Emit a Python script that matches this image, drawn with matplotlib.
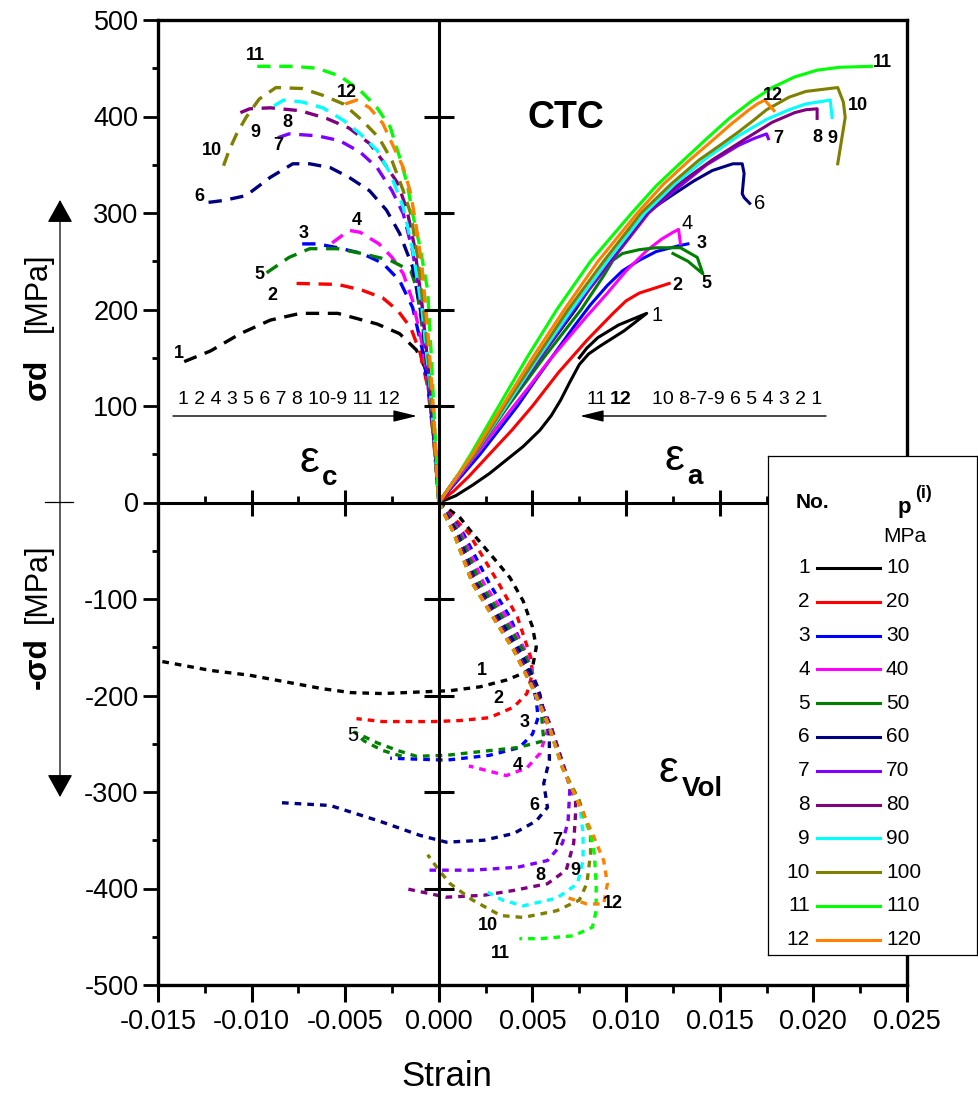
import matplotlib
matplotlib.use('Agg')
import matplotlib.pyplot as plt
from matplotlib.lines import Line2D
from matplotlib.ticker import MultipleLocator, FormatStrFormatter
import numpy as np

plt.rcParams['font.family'] = ['Liberation Sans', 'DejaVu Sans']
plt.rcParams['axes.unicode_minus'] = False

W, H = 979, 1094


def fx(px):
    return px / W


def fy(py):
    return 1 - py / H


# test number, confining pressure and colour
numbers = list(range(1, 13))
pressures = [10, 20, 30, 40, 50, 60, 70, 80, 90, 100, 110, 120]
colors = ['#000000', '#ff0000', '#0000ff', '#ff00ff', '#008000', '#000080',
          '#8000ff', '#800080', '#00ffff', '#808000', '#00ff00', '#ff8000']

# axial strain eps_a vs sigma_d (solid)
axial1 = [(0, 0), (0.0009, 7), (0.0018, 18), (0.0027, 30), (0.0036, 44), (0.0045, 58),
          (0.0054, 75), (0.0060, 90), (0.0065, 106), (0.0070, 125), (0.0075, 143),
          (0.0080, 154), (0.0086, 162), (0.0099, 178), (0.0111, 196), (0.0096, 184),
          (0.0085, 171), (0.0079, 160), (0.0075, 150)]
axial2 = [(0, 0), (0.0008, 12), (0.0016, 27), (0.0027, 50), (0.0039, 75), (0.0050, 100),
          (0.0064, 135), (0.0079, 168), (0.0093, 196), (0.0100, 209), (0.0107, 217),
          (0.0115, 222), (0.0123, 227)]
axial3 = [(0, 0), (0.0011, 25), (0.0022, 50), (0.0042, 100), (0.0052, 128), (0.0062, 155),
          (0.0072, 182), (0.0081, 205), (0.0090, 225), (0.0098, 240), (0.0107, 251),
          (0.0116, 260), (0.0128, 266), (0.0133, 268)]
axial4 = [(0, 0), (0.0010, 25), (0.0020, 50), (0.0040, 100), (0.0049, 122), (0.0058, 145),
          (0.0068, 168), (0.0079, 193), (0.0090, 217), (0.0100, 240), (0.0111, 261),
          (0.0119, 273), (0.0125, 280), (0.0128, 283), (0.0129, 268)]
axial5 = [(0, 0), (0.0009, 25), (0.0019, 50), (0.0037, 100), (0.0056, 150), (0.0076, 200),
          (0.0088, 235), (0.0093, 251), (0.0098, 258), (0.0107, 262), (0.0116, 264),
          (0.0129, 264), (0.0138, 254), (0.0141, 237), (0.0133, 250), (0.0125, 258)]
axial6 = [(0, 0), (0.0009, 25), (0.0019, 50), (0.0036, 100), (0.0054, 150), (0.0073, 200),
          (0.0090, 250), (0.0094, 256), (0.0097, 266), (0.0102, 280), (0.0107, 292),
          (0.0112, 302), (0.0125, 319), (0.0136, 333), (0.0146, 344), (0.0157, 351),
          (0.0162, 351), (0.0163, 341), (0.0162, 320), (0.0163, 316), (0.0166, 310)]
axial7 = [(0, 0), (0.0009, 25), (0.0019, 50), (0.0036, 100), (0.0054, 150), (0.0072, 200),
          (0.0092, 250), (0.0112, 300), (0.0125, 322), (0.0143, 350), (0.0160, 370),
          (0.0168, 377), (0.0175, 382), (0.0176, 377)]
axial8 = [(0, 0), (0.0009, 25), (0.0019, 50), (0.0036, 100), (0.0053, 150), (0.0071, 200),
          (0.0091, 250), (0.0111, 300), (0.0128, 330), (0.0146, 355), (0.0163, 376),
          (0.0178, 394), (0.0190, 404), (0.0196, 407), (0.0202, 408), (0.0202, 398)]
axial9 = [(0, 0), (0.0009, 25), (0.0019, 50), (0.0036, 100), (0.0053, 150), (0.0071, 200),
          (0.0090, 250), (0.0110, 300), (0.0126, 330), (0.0143, 357), (0.0160, 380),
          (0.0175, 397), (0.0187, 407), (0.0196, 413), (0.0209, 417), (0.0210, 399)]
axial10 = [(0, 0), (0.0009, 25), (0.0019, 50), (0.0035, 100), (0.0052, 150), (0.0069, 200),
           (0.0088, 250), (0.0108, 300), (0.0124, 330), (0.0139, 355), (0.0150, 370),
           (0.0160, 384), (0.0168, 396), (0.0175, 407), (0.0187, 420), (0.0196, 426),
           (0.0213, 430), (0.0216, 415), (0.0217, 399), (0.0213, 351)]
axial11 = [(0, 0), (0.0009, 25), (0.0017, 50), (0.0032, 100), (0.0047, 150), (0.0063, 200),
           (0.0081, 250), (0.0103, 300), (0.0116, 328), (0.0128, 350), (0.0143, 377),
           (0.0155, 398), (0.0167, 416), (0.0178, 430), (0.0190, 441), (0.0202, 448),
           (0.0214, 451), (0.0231, 452)]
axial12 = [(0, 0), (0.0009, 25), (0.0018, 50), (0.0034, 100), (0.0050, 150), (0.0067, 200),
           (0.0085, 250), (0.0106, 300), (0.0120, 330), (0.0134, 355), (0.0146, 375),
           (0.0156, 392), (0.0165, 406), (0.0170, 413), (0.0174, 417), (0.0179, 406)]

# lateral strain eps_c vs sigma_d (long dashes)
lateral1 = [(-0.0136, 146), (-0.0122, 157), (-0.0106, 175), (-0.0090, 189), (-0.0074, 196),
            (-0.0054, 196), (-0.0033, 185), (-0.0021, 175), (-0.0012, 158), (-0.0006, 134),
            (-0.0004, 110), (-0.0002, 60), (0, 0)]
lateral2 = [(-0.0076, 227), (-0.0054, 226), (-0.0041, 220), (-0.0030, 212), (-0.0022, 199),
            (-0.0015, 181), (-0.0010, 155), (-0.0006, 120), (-0.0003, 70), (0, 0)]
lateral3 = [(-0.0073, 268), (-0.0065, 268), (-0.0054, 264), (-0.0041, 258), (-0.0030, 248),
            (-0.0021, 230), (-0.0014, 202), (-0.0009, 160), (-0.0005, 110), (-0.0002, 55), (0, 0)]
lateral4 = [(-0.0057, 269), (-0.0048, 282), (-0.0042, 280), (-0.0032, 268), (-0.0025, 254),
            (-0.0019, 237), (-0.0014, 209), (-0.0009, 165), (-0.0005, 110), (-0.0002, 55), (0, 0)]
lateral5 = [(-0.0092, 238), (-0.0080, 254), (-0.0069, 263), (-0.0054, 263), (-0.0041, 258),
            (-0.0026, 251), (-0.0015, 240), (-0.0012, 223), (-0.0008, 170), (-0.0005, 110),
            (-0.0002, 50), (0, 0)]
lateral6 = [(-0.0123, 311), (-0.0115, 313), (-0.0103, 318), (-0.0090, 337), (-0.0078, 351),
            (-0.0069, 351), (-0.0058, 347), (-0.0048, 337), (-0.0037, 323), (-0.0028, 303),
            (-0.0021, 279), (-0.0014, 244), (-0.0009, 190), (-0.0005, 120), (-0.0002, 55), (0, 0)]
lateral7 = [(-0.0086, 378), (-0.0080, 382), (-0.0065, 380), (-0.0053, 375), (-0.0042, 363),
            (-0.0033, 347), (-0.0025, 323), (-0.0019, 299), (-0.0014, 260), (-0.0009, 200),
            (-0.0005, 125), (-0.0002, 55), (0, 0)]
lateral8 = [(-0.0106, 404), (-0.0101, 408), (-0.0090, 409), (-0.0074, 406), (-0.0060, 398),
            (-0.0048, 388), (-0.0037, 372), (-0.0030, 354), (-0.0022, 331), (-0.0017, 303),
            (-0.0013, 265), (-0.0009, 205), (-0.0005, 125), (-0.0002, 55), (0, 0)]
lateral9 = [(-0.0088, 411), (-0.0083, 417), (-0.0073, 415), (-0.0062, 409), (-0.0051, 396),
            (-0.0042, 382), (-0.0033, 365), (-0.0026, 341), (-0.0019, 306), (-0.0014, 262),
            (-0.0009, 200), (-0.0005, 125), (-0.0002, 55), (0, 0)]
lateral10 = [(-0.0115, 349), (-0.0112, 365), (-0.0108, 382), (-0.0103, 399), (-0.0096, 418),
             (-0.0087, 430), (-0.0073, 429), (-0.0062, 422), (-0.0051, 413), (-0.0041, 396),
             (-0.0032, 378), (-0.0025, 354), (-0.0019, 323), (-0.0015, 299), (-0.0011, 250),
             (-0.0007, 180), (-0.0004, 110), (-0.0002, 50), (0, 0)]
lateral11 = [(-0.0097, 452), (-0.0078, 452), (-0.0065, 450), (-0.0053, 442), (-0.0042, 427),
             (-0.0033, 409), (-0.0026, 389), (-0.0021, 358), (-0.0017, 331), (-0.0014, 299),
             (-0.0010, 264), (-0.0006, 220), (-0.0004, 150), (-0.0002, 70), (0, 0)]
lateral12 = [(-0.0050, 413), (-0.0044, 417), (-0.0037, 409), (-0.0030, 393), (-0.0025, 372),
             (-0.0019, 347), (-0.0015, 320), (-0.0012, 285), (-0.0009, 244), (-0.0006, 180),
             (-0.0003, 100), (0, 0)]

# volumetric strain eps_vol vs -sigma_d (short dashes)
vol1 = [(0, 0), (0.0011, -15), (0.0018, -32), (0.0029, -57), (0.0038, -78), (0.0045, -102),
        (0.0050, -129), (0.0052, -150), (0.0050, -171), (0.0045, -177), (0.0036, -184),
        (0.0022, -191), (0.0006, -195), (-0.0030, -198), (-0.0047, -197), (-0.0062, -193),
        (-0.0076, -188), (-0.0101, -179), (-0.0122, -174), (-0.0150, -164)]
vol2 = [(0, 0), (0.0016, -32), (0.0032, -84), (0.0042, -119), (0.0049, -160), (0.0050, -177),
        (0.0047, -198), (0.0040, -212), (0.0027, -223), (0.0011, -226), (-0.0003, -227),
        (-0.0030, -227), (-0.0044, -224)]
vol3 = [(0, 0), (0.0013, -32), (0.0027, -84), (0.0038, -119), (0.0047, -160), (0.0052, -205),
        (0.0053, -223), (0.0050, -240), (0.0043, -254), (0.0027, -262), (0.0004, -267),
        (-0.0026, -265)]
vol4 = [(0, 0), (0.0012, -32), (0.0024, -84), (0.0036, -119), (0.0046, -153), (0.0054, -200),
        (0.0058, -236), (0.0054, -260), (0.0047, -275), (0.0036, -283), (0.0026, -278),
        (0.0016, -273)]
vol5 = [(0, 0), (0.0011, -32), (0.0022, -84), (0.0034, -119), (0.0045, -153), (0.0054, -200),
        (0.0056, -247), (0.0042, -254), (0.0018, -259), (0.0004, -262), (-0.0012, -263),
        (-0.0022, -257), (-0.0033, -249), (-0.0045, -238), (-0.0040, -247), (-0.0030, -257),
        (-0.0018, -264)]
vol6 = [(0, 0), (0.0010, -32), (0.0020, -84), (0.0032, -119), (0.0043, -153), (0.0053, -192),
        (0.0059, -240), (0.0059, -267), (0.0056, -291), (0.0058, -316), (0.0052, -330),
        (0.0040, -343), (0.0024, -350), (0.0004, -352), (-0.0010, -345), (-0.0032, -330),
        (-0.0058, -314), (-0.0085, -311)]
vol7 = [(0, 0), (0.0009, -32), (0.0019, -84), (0.0030, -119), (0.0041, -153), (0.0051, -192),
        (0.0060, -233), (0.0066, -270), (0.0070, -295), (0.0069, -330), (0.0066, -353),
        (0.0058, -371), (0.0042, -378), (0.0018, -381), (-0.0005, -381)]
vol8 = [(0, 0), (0.0009, -32), (0.0019, -84), (0.0030, -119), (0.0041, -153), (0.0051, -192),
        (0.0060, -233), (0.0067, -275), (0.0073, -310), (0.0073, -322), (0.0072, -353),
        (0.0068, -381), (0.0058, -395), (0.0040, -402), (0.0024, -407), (0.0004, -409),
        (-0.0018, -400)]
vol9 = [(0, 0), (0.0008, -32), (0.0018, -84), (0.0029, -119), (0.0040, -153), (0.0050, -192),
        (0.0059, -233), (0.0066, -275), (0.0075, -309), (0.0077, -343), (0.0077, -371),
        (0.0074, -395), (0.0063, -410), (0.0045, -418), (0.0034, -412), (0.0026, -404)]
vol10 = [(0, 0), (0.0008, -32), (0.0018, -84), (0.0029, -119), (0.0040, -153), (0.0050, -192),
         (0.0059, -233), (0.0066, -275), (0.0075, -309), (0.0081, -343), (0.0081, -364),
         (0.0079, -395), (0.0075, -412), (0.0063, -423), (0.0045, -430), (0.0033, -428),
         (0.0018, -412), (0.0006, -395), (0.0000, -381), (-0.0006, -365)]
vol11 = [(0, 0), (0.0008, -32), (0.0018, -84), (0.0029, -119), (0.0040, -153), (0.0050, -192),
         (0.0059, -233), (0.0066, -275), (0.0074, -309), (0.0081, -343), (0.0083, -364),
         (0.0084, -395), (0.0084, -423), (0.0082, -440), (0.0072, -449), (0.0054, -452),
         (0.0043, -452)]
vol12 = [(0, 0), (0.0008, -32), (0.0018, -84), (0.0029, -119), (0.0040, -153), (0.0050, -192),
         (0.0059, -233), (0.0066, -275), (0.0074, -309), (0.0082, -343), (0.0088, -371),
         (0.0090, -395), (0.0088, -416), (0.0079, -416), (0.0068, -409)]

axial = [axial1, axial2, axial3, axial4, axial5, axial6, axial7, axial8, axial9, axial10,
         axial11, axial12]
lateral = [lateral1, lateral2, lateral3, lateral4, lateral5, lateral6, lateral7, lateral8,
           lateral9, lateral10, lateral11, lateral12]
vol = [vol1, vol2, vol3, vol4, vol5, vol6, vol7, vol8, vol9, vol10, vol11, vol12]

# curve number label positions (data coords) and weights
axial_lbl = [(0.01164, 194), (0.01276, 225), (0.01404, 268), (0.01324, 289), (0.01431, 227),
             (0.01714, 310), (0.01810, 377), (0.02019, 378), (0.02099, 377), (0.02238, 411),
             (0.02366, 456), (0.01784, 422)]
axial_bold = [False, True, True, False, True, False, True, True, True, True, True, True]
lateral_lbl = [(-0.0139, 154), (-0.0089, 215), (-0.0072, 279), (-0.0044, 292), (-0.0096, 236),
               (-0.0128, 317), (-0.0086, 370), (-0.0081, 394), (-0.0098, 383), (-0.0121, 365),
               (-0.0098, 463), (-0.0049, 425)]
vol_lbl = [(0.0023, -174), (0.0032, -203), (0.0046, -228), (0.0042, -273), (-0.0046, -241),
           (0.0051, -314), (0.0063, -350), (0.0054, -387), (0.0073, -381), (0.0026, -438),
           (0.0033, -467), (0.0093, -416)]
vol_bold = [True, True, True, True, False, True, True, True, True, True, True, True]

fig = plt.figure(figsize=(W / 100, H / 100), dpi=100)
ax = fig.add_axes([fx(158), fy(985), (907 - 158) / W, (985 - 20) / H])
ax.set_xlim(-0.015, 0.025)
ax.set_ylim(-500, 500)

for i in range(12):
    x, y = zip(*axial[i])
    ax.plot(x, y, color=colors[i], lw=2.2, zorder=3, solid_joinstyle='round')
    x, y = zip(*lateral[i])
    ax.plot(x, y, color=colors[i], lw=2.4, dashes=(4, 2.6), zorder=3)
    x, y = zip(*vol[i])
    ax.plot(x, y, color=colors[i], lw=2.4, dashes=(2, 1.8), zorder=3)

# centre cross with its own ticks
ax.axhline(0, color='k', lw=2.2, zorder=4)
ax.axvline(0, color='k', lw=2.2, zorder=4)
yt = np.array([-400, -300, -200, -100, 100, 200, 300, 400])
ax.plot(np.zeros(len(yt)), yt, ls='none', marker='_', ms=21, mew=2.2, color='k', zorder=4)
xt = np.array([-0.010, -0.005, 0.005, 0.010, 0.015, 0.020])
ax.plot(xt, np.zeros(len(xt)), ls='none', marker='|', ms=19, mew=2.2, color='k', zorder=4)
xm = np.arange(-0.0125, 0.023, 0.005)
ax.plot(xm, np.zeros(len(xm)), ls='none', marker=2, ms=5, mew=2, color='k', zorder=4)

for s in ax.spines.values():
    s.set_linewidth(2.4)
ax.xaxis.set_major_locator(MultipleLocator(0.005))
ax.xaxis.set_minor_locator(MultipleLocator(0.0025))
ax.yaxis.set_major_locator(MultipleLocator(100))
ax.yaxis.set_minor_locator(MultipleLocator(50))
ax.xaxis.set_major_formatter(FormatStrFormatter('%.3f'))
ax.yaxis.set_major_formatter(FormatStrFormatter('%d'))
ax.tick_params(axis='x', which='major', direction='out', length=12, width=2.2,
               labelsize=19.5, pad=5, top=False)
ax.tick_params(axis='x', which='minor', direction='out', length=6, width=2, top=False)
ax.tick_params(axis='y', which='major', direction='out', length=11, width=2,
               labelsize=19.5, pad=3, right=False)
ax.tick_params(axis='y', which='minor', direction='out', length=4, width=2, right=False)

# curve labels
for i in range(12):
    ax.text(*axial_lbl[i], str(numbers[i]), ha='center', va='center',
            fontsize=13 if axial_bold[i] else 14.5,
            fontweight='bold' if axial_bold[i] else 'normal', zorder=5)
    ax.text(*lateral_lbl[i], str(numbers[i]), ha='center', va='center', fontsize=13,
            fontweight='bold', zorder=5)
    ax.text(*vol_lbl[i], str(numbers[i]), ha='center', va='center',
            fontsize=13 if vol_bold[i] else 14.5,
            fontweight='bold' if vol_bold[i] else 'normal', zorder=5)

# quadrant titles
tf = fig.transFigure
ax.text(fx(566), fy(118), 'CTC', transform=tf, ha='center', va='center', fontsize=27,
        fontweight='bold')
ax.text(fx(309), fy(460), 'ε', transform=tf, ha='center', va='center', fontsize=32)
ax.text(fx(322), fy(478), 'c', transform=tf, ha='left', va='center', fontsize=20,
        fontweight='bold')
ax.text(fx(674), fy(458), 'ε', transform=tf, ha='center', va='center', fontsize=32)
ax.text(fx(687), fy(477), 'a', transform=tf, ha='left', va='center', fontsize=20,
        fontweight='bold')
ax.text(fx(668), fy(770), 'ε', transform=tf, ha='center', va='center', fontsize=32)
ax.text(fx(682), fy(789), 'Vol', transform=tf, ha='left', va='center', fontsize=20,
        fontweight='bold')

# order arrows
ax.text(fx(289), fy(399), '1 2 4 3 5 6 7 8 10-9 11 12', transform=tf, ha='center',
        va='center', fontsize=14)
ax.annotate('', xy=(fx(417), fy(416)), xytext=(fx(173), fy(416)), xycoords=tf, textcoords=tf,
            arrowprops=dict(arrowstyle='-|>,head_length=0.9,head_width=0.22', lw=1,
                            color='k', mutation_scale=16, shrinkA=0, shrinkB=0))
ax.text(fx(587), fy(399), '11', transform=tf, ha='left', va='center', fontsize=14)
ax.text(fx(610), fy(399), '12', transform=tf, ha='left', va='center', fontsize=14,
        fontweight='bold')
ax.text(fx(822), fy(399), '10 8-7-9 6 5 4 3 2 1', transform=tf, ha='right', va='center',
        fontsize=14)
ax.annotate('', xy=(fx(580), fy(416)), xytext=(fx(826), fy(416)), xycoords=tf, textcoords=tf,
            arrowprops=dict(arrowstyle='-|>,head_length=0.9,head_width=0.22', lw=1,
                            color='k', mutation_scale=16, shrinkA=0, shrinkB=0))

# axis titles
fig.text(fx(447), fy(1076), 'Strain', ha='center', va='center', fontsize=25)
fig.text(fx(38), fy(379), 'σd', rotation=90, ha='center', va='center', fontsize=23,
         fontweight='bold')
fig.text(fx(38), fy(292), '[MPa]', rotation=90, ha='center', va='center', fontsize=22)
fig.text(fx(38), fy(663), '-σd', rotation=90, ha='center', va='center', fontsize=23,
         fontweight='bold')
fig.text(fx(38), fy(583), '[MPa]', rotation=90, ha='center', va='center', fontsize=22)
ax.annotate('', xy=(fx(60), fy(200)), xytext=(fx(60), fy(797)), xycoords=tf, textcoords=tf,
            arrowprops=dict(arrowstyle='<|-|>,head_length=0.9,head_width=0.5', lw=0.9,
                            color='k', mutation_scale=16, shrinkA=0, shrinkB=0),
            annotation_clip=False)
fig.add_artist(Line2D([fx(45), fx(73)], [fy(502), fy(502)], color='k', lw=0.9))

# legend box
lg = fig.add_axes([fx(768), fy(955), (977 - 768) / W, (955 - 456) / H])
lg.set_zorder(6)
lg.set_xlim(768, 977)
lg.set_ylim(955, 456)
lg.set_xticks([])
lg.set_yticks([])
for s in lg.spines.values():
    s.set_linewidth(0.9)
lg.text(812, 503, 'No.', ha='center', va='center', fontsize=15, fontweight='bold')
lg.text(904, 507, 'p', ha='center', va='center', fontsize=16, fontweight='bold')
lg.text(924, 494, '(i)', ha='center', va='center', fontsize=13, fontweight='bold')
lg.text(905, 537, 'MPa', ha='center', va='center', fontsize=15)
for i in range(12):
    yy = 568 + i * 33.8
    lg.text(810, yy, str(numbers[i]), ha='right', va='center', fontsize=15)
    lg.plot([817, 880], [yy, yy], color=colors[i], lw=2.2)
    lg.text(886, yy, str(pressures[i]), ha='left', va='center', fontsize=15)

fig.savefig('out.png', dpi=100)
